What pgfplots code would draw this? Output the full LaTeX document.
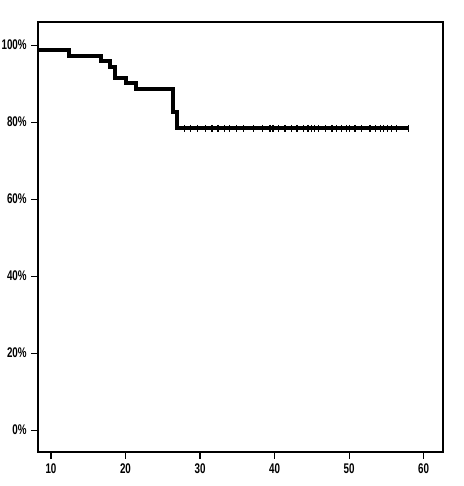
\documentclass[border=0pt]{standalone}
\usepackage{fontspec}
\setmainfont{Liberation Sans}[FakeStretch=0.7]
\usepackage{pgfplots}
\pgfplotsset{compat=1.18}
\begin{document}
\begin{tikzpicture}
\begin{axis}[
  at={(0,0)}, anchor=south west,
  scale only axis,
  width=303.75pt, height=322.5pt,
  xmin=8.26, xmax=62.6,
  ymin=-5.7, ymax=106,
  axis line style={line width=2pt},
  xtick={10,20,30,40,50,60},
  ytick={0,20,40,60,80,100},
  yticklabels={0\%,20\%,40\%,60\%,80\%,100\%},
  xtick pos=left, ytick pos=left,
  tick align=outside,
  major tick length=5pt,
  tick style={line width=0.8pt, black},
  tick label style={font=\fontsize{10.5}{11}\selectfont\bfseries},
  /pgf/number format/assume math mode=true,
  clip=false,
]
\addplot[const plot, line width=3pt, black] coordinates {
  (8.26,98.7)(12.4,97.2)(16.7,95.8)(17.9,94.3)(18.6,91.5)(20.1,90.1)
  (21.4,88.6)(26.4,82.7)(26.9,78.4)(58.0,78.4)
};
\addplot[only marks, mark=|, mark size=2.5pt, mark options={line width=0.9pt}, black] coordinates {
  (27.9,78.4)(28.7,78.4)(29.7,78.4)(30.7,78.4)(31.6,78.4)(32.4,78.4)
  (33.3,78.4)(34.0,78.4)(34.9,78.4)(35.8,78.4)(37.2,78.4)(38.4,78.4)
  (39.4,78.4)(39.8,78.4)(40.5,78.4)(41.4,78.4)(42.3,78.4)(43.0,78.4)
  (43.9,78.4)(44.5,78.4)(45.0,78.4)(45.4,78.4)(45.9,78.4)(46.8,78.4)
  (47.7,78.4)(48.3,78.4)(49.0,78.4)(49.7,78.4)(50.1,78.4)(50.8,78.4)
  (51.7,78.4)(52.8,78.4)(53.5,78.4)(54.2,78.4)(54.6,78.4)(55.1,78.4)
  (55.7,78.4)(56.4,78.4)(58.0,78.4)
};
\end{axis}
\pgfresetboundingbox
\useasboundingbox (-28.5pt,-25.5pt) rectangle (319.5pt,339pt);
\end{tikzpicture}
\end{document}
